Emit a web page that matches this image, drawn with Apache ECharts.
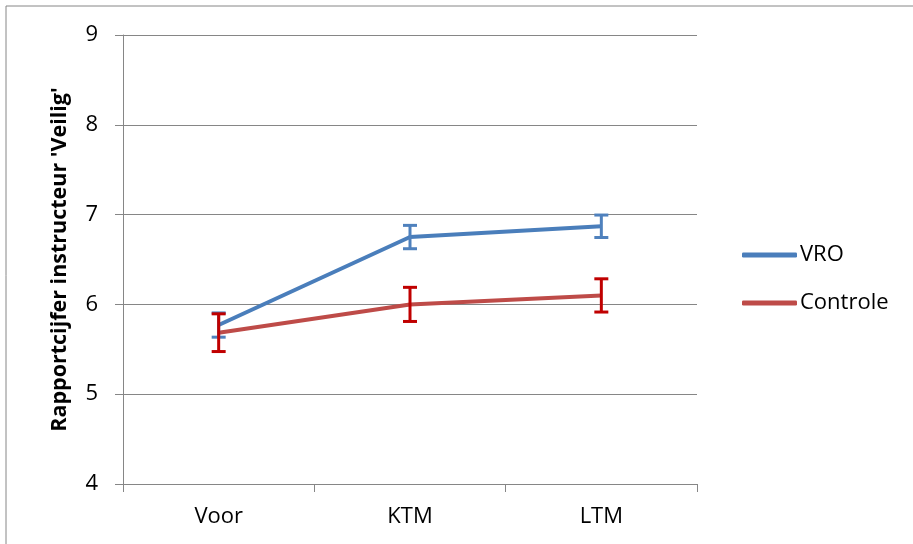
<!DOCTYPE html>
<html><head><meta charset="utf-8">
<script src="https://cdn.jsdelivr.net/npm/echarts@6/dist/echarts.min.js"></script>
<style>html,body{margin:0;padding:0;background:#fff}#c{width:913px;height:544px}</style>
</head><body><div id="c"></div>
<script>
const categories = ['Voor', 'KTM', 'LTM'];
const vroValues = [5.77, 6.75, 6.87];
const vroErr = [0.135, 0.13, 0.125];
const controleValues = [5.685, 6.0, 6.10];
const controleErr = [0.21, 0.19, 0.185];
const yTicks = [4, 5, 6, 7, 8, 9];

const FONT = 'Open Sans';
function errSeries(name, values, errs, color) {
  return {
    type: 'custom', name: name, z: 5,
    data: values.map((v, i) => [i, v - errs[i], v + errs[i]]),
    renderItem: function (params, api) {
      const lo = api.coord([api.value(0), api.value(1)]);
      const hi = api.coord([api.value(0), api.value(2)]);
      const hw = 7;
      const st = { stroke: color, lineWidth: 3 };
      return { type: 'group', children: [
        { type: 'line', shape: { x1: lo[0], y1: lo[1], x2: hi[0], y2: hi[1] }, style: st },
        { type: 'line', shape: { x1: lo[0] - hw, y1: lo[1], x2: lo[0] + hw, y2: lo[1] }, style: st },
        { type: 'line', shape: { x1: hi[0] - hw, y1: hi[1], x2: hi[0] + hw, y2: hi[1] }, style: st }
      ]};
    }
  };
}
const chart = echarts.init(document.getElementById('c'));
chart.setOption({
  animation: false,
  graphic: [{ type: 'rect', shape: { x: 6, y: 6, width: 1000, height: 1000 }, style: { fill: 'none', stroke: '#868686', lineWidth: 1 } }],
  grid: { left: 123, right: 216, top: 35, bottom: 60 },
  legend: {
    orient: 'vertical', left: 737, top: 239, itemGap: 26,
    icon: 'roundRect', itemWidth: 55, itemHeight: 5,
    data: ['VRO', 'Controle'],
    textStyle: { fontFamily: FONT, fontSize: 22, color: '#000', padding: [0, 0, 0, -2] }
  },
  xAxis: {
    type: 'category', data: categories, boundaryGap: true,
    axisLine: { lineStyle: { color: '#868686', width: 1 } },
    axisTick: { show: true, length: 8, lineStyle: { color: '#868686' } },
    axisLabel: { fontFamily: FONT, fontSize: 22, color: '#000', margin: 22 }
  },
  yAxis: {
    type: 'value', min: 4, max: 9, interval: 1,
    name: "Rapportcijfer instructeur 'Veilig'", nameLocation: 'middle', nameGap: 52,
    nameTextStyle: { fontFamily: FONT, fontSize: 21.5, fontWeight: 'bold', color: '#000' },
    axisLine: { show: true, lineStyle: { color: '#868686', width: 1 } },
    axisTick: { show: true, length: 8, lineStyle: { color: '#868686' } },
    splitLine: { lineStyle: { color: '#868686', width: 1 } },
    axisLabel: { fontFamily: FONT, fontSize: 22, color: '#000', margin: 25,
      formatter: v => yTicks.includes(v) ? String(v) : '' }
  },
  series: [
    { type: 'line', name: 'Controle', data: controleValues, symbol: 'none', z: 3,
      lineStyle: { color: '#BE4B48', width: 4 }, itemStyle: { color: '#BE4B48' } },
    { type: 'line', name: 'VRO', data: vroValues, symbol: 'none', z: 4,
      lineStyle: { color: '#4A7EBB', width: 4 }, itemStyle: { color: '#4A7EBB' } },
    errSeries('VROerr', vroValues, vroErr, '#4F81BD'),
    errSeries('Controleerr', controleValues, controleErr, '#C00000')
  ]
});
</script></body></html>
